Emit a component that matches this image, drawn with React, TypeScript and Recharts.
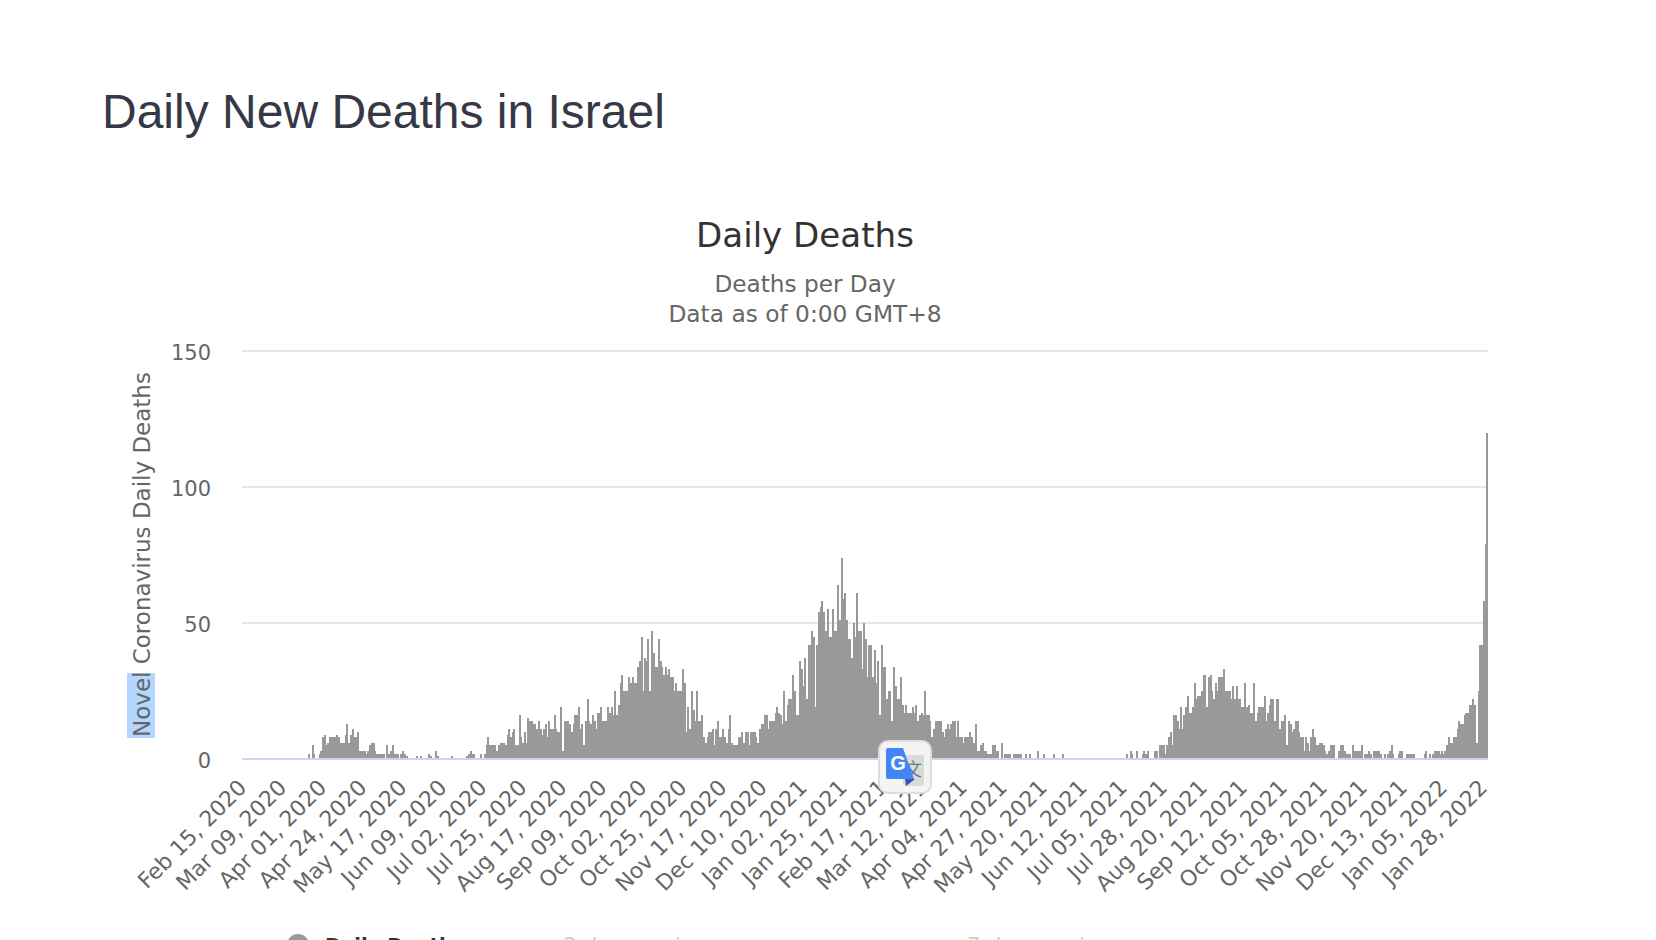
import {
  Bar,
  BarChart,
  CartesianGrid,
  ReferenceLine,
  XAxis,
  YAxis,
} from "recharts";

const tickLabels = [
  "Feb 15, 2020", "Mar 09, 2020", "Apr 01, 2020", "Apr 24, 2020", "May 17, 2020", "Jun 09, 2020",
  "Jul 02, 2020", "Jul 25, 2020", "Aug 17, 2020", "Sep 09, 2020", "Oct 02, 2020", "Oct 25, 2020",
  "Nov 17, 2020", "Dec 10, 2020", "Jan 02, 2021", "Jan 25, 2021", "Feb 17, 2021", "Mar 12, 2021",
  "Apr 04, 2021", "Apr 27, 2021", "May 20, 2021", "Jun 12, 2021", "Jul 05, 2021", "Jul 28, 2021",
  "Aug 20, 2021", "Sep 12, 2021", "Oct 05, 2021", "Oct 28, 2021", "Nov 20, 2021", "Dec 13, 2021",
  "Jan 05, 2022", "Jan 28, 2022",
];

const yTicks = [0, 50, 100, 150];

// one row per 23 days, so each row starts on a tick label
const dailyDeaths = [
  0, 0, 0, 0, 0, 0, 0, 0, 0, 0, 0, 0, 0, 0, 0, 0, 0, 0, 0, 0, 0, 0, 0,
  0, 0, 0, 0, 0, 0, 0, 0, 0, 0, 0, 0, 0, 0, 0, 2, 0, 5, 2, 0, 0, 2, 3,
  8, 9, 5, 6, 8, 8, 8, 8, 9, 8, 6, 6, 6, 9, 13, 6, 9, 11, 8, 8, 10, 3, 3,
  3, 3, 2, 3, 5, 6, 6, 3, 2, 2, 2, 2, 2, 0, 5, 2, 3, 5, 2, 2, 2, 0, 2,
  3, 2, 1, 0, 0, 0, 0, 0, 1, 0, 1, 0, 0, 0, 0, 2, 1, 0, 0, 3, 1, 0, 0,
  0, 0, 0, 0, 0, 1, 0, 0, 0, 0, 0, 0, 0, 0, 1, 2, 3, 2, 2, 0, 0, 0, 2,
  0, 2, 5, 8, 5, 5, 5, 5, 3, 5, 6, 6, 6, 5, 9, 11, 8, 10, 11, 5, 5, 16, 8,
  6, 10, 6, 15, 14, 14, 13, 13, 11, 14, 11, 9, 11, 13, 8, 14, 11, 11, 16, 11, 10, 10, 19,
  3, 14, 14, 14, 13, 10, 13, 16, 16, 19, 11, 13, 5, 14, 22, 14, 13, 16, 14, 11, 17, 17, 19,
  14, 14, 14, 19, 17, 19, 16, 25, 16, 20, 28, 31, 25, 25, 25, 30, 28, 30, 28, 28, 34, 36, 45,
  25, 37, 36, 44, 25, 47, 39, 34, 34, 44, 36, 34, 31, 34, 31, 33, 30, 30, 25, 28, 25, 25, 25,
  33, 28, 10, 19, 11, 25, 18, 14, 25, 14, 14, 16, 8, 6, 8, 10, 10, 11, 5, 11, 14, 8, 8,
  11, 8, 6, 11, 16, 6, 5, 5, 5, 8, 8, 10, 6, 10, 10, 5, 10, 10, 10, 8, 6, 11, 13,
  13, 16, 16, 11, 14, 14, 14, 17, 19, 17, 16, 13, 25, 14, 20, 22, 22, 31, 25, 16, 16, 36, 33,
  27, 37, 22, 42, 42, 47, 45, 19, 42, 54, 56, 58, 54, 47, 55, 45, 45, 55, 47, 47, 64, 51, 74,
  59, 61, 51, 44, 44, 37, 50, 45, 61, 47, 47, 33, 50, 44, 30, 42, 42, 30, 40, 28, 36, 16, 42,
  34, 34, 22, 25, 25, 14, 34, 27, 22, 22, 30, 20, 17, 20, 17, 17, 17, 19, 17, 20, 14, 16, 17,
  16, 25, 16, 16, 14, 8, 11, 14, 14, 14, 14, 10, 8, 11, 13, 11, 13, 14, 14, 8, 14, 8, 8,
  6, 8, 8, 8, 10, 8, 6, 13, 3, 3, 5, 6, 3, 3, 2, 2, 2, 5, 5, 3, 3, 0, 6,
  0, 2, 2, 2, 2, 0, 2, 2, 2, 2, 2, 0, 0, 2, 0, 2, 0, 0, 0, 0, 3, 0, 0,
  2, 0, 0, 0, 0, 0, 2, 0, 0, 0, 0, 2, 0, 0, 0, 0, 0, 0, 0, 0, 0, 0, 0,
  0, 0, 0, 0, 0, 0, 0, 0, 0, 0, 0, 0, 0, 0, 0, 0, 0, 0, 0, 0, 0, 0, 0,
  0, 0, 2, 0, 3, 2, 0, 0, 3, 0, 0, 2, 3, 2, 3, 0, 0, 0, 3, 3, 0, 5, 5,
  5, 2, 5, 8, 10, 5, 16, 16, 14, 11, 19, 11, 16, 19, 23, 17, 17, 19, 28, 22, 23, 23, 25,
  31, 31, 19, 30, 31, 25, 22, 28, 25, 30, 30, 30, 33, 25, 25, 25, 22, 27, 22, 27, 22, 22, 19,
  19, 28, 19, 20, 17, 17, 28, 14, 17, 19, 19, 19, 23, 14, 17, 20, 22, 22, 14, 22, 22, 11, 14,
  14, 16, 5, 14, 13, 10, 11, 14, 14, 10, 8, 8, 3, 8, 6, 3, 8, 11, 8, 5, 5, 6, 6,
  5, 3, 2, 3, 5, 5, 5, 0, 0, 3, 5, 5, 3, 2, 2, 2, 0, 5, 3, 3, 3, 3, 5,
  0, 2, 2, 3, 2, 0, 3, 3, 3, 3, 2, 0, 2, 0, 2, 3, 5, 2, 0, 0, 2, 3, 3,
  0, 0, 2, 2, 2, 2, 2, 0, 0, 0, 0, 0, 2, 3, 0, 2, 0, 2, 3, 3, 3, 2, 3,
  2, 3, 5, 8, 6, 6, 8, 8, 11, 14, 13, 13, 16, 17, 17, 20, 20, 22, 20, 6, 25, 42, 42,
  58, 79, 120,
];

const chartData = dailyDeaths.map((deaths, i) => ({
  day: i % 23 === 0 ? tickLabels[i / 23] : `day ${i}`,
  deaths,
}));

const labelFont = "'DejaVu Sans', sans-serif";

const DateTick = ({ x, y, payload }: any) => (
  <text
    x={x + 5}
    y={y + 22}
    transform={`rotate(-45 ${x + 5} ${y + 22})`}
    textAnchor="end"
    fontFamily={labelFont}
    fontSize={21.8}
    fill="#666666"
  >
    {payload.value}
  </text>
);

const CountTick = ({ x, y, payload }: any) => (
  <text x={x + 6} y={y + 9} textAnchor="end" fontFamily={labelFont} fontSize={21} fill="#666666">
    {payload.value}
  </text>
);

// recharts floors the bar width on such a narrow band, so the columns are drawn 2px wide to touch
const DayBar = ({ x, y, height }: any) =>
  height > 0 ? (
    <rect x={x} y={y} width={2} height={height} fill="#999999" shapeRendering="crispEdges" />
  ) : null;

const PageText = () => (
  <svg width={1656} height={940} style={{ position: "absolute", left: 0, top: 0 }}>
    <text x={102} y={128} fontFamily="'Liberation Sans', sans-serif" fontSize={48} fill="#363945">
      Daily New Deaths in Israel
    </text>
    <text x={805} y={247} textAnchor="middle" fontFamily={labelFont} fontSize={34.1} fill="#333333">
      Daily Deaths
    </text>
    <text x={805} y={292} textAnchor="middle" fontFamily={labelFont} fontSize={23.2} fill="#666666">
      Deaths per Day
    </text>
    <text x={805} y={322} textAnchor="middle" fontFamily={labelFont} fontSize={23.3} fill="#666666">
      Data as of 0:00 GMT+8
    </text>
    <rect x={127} y={673} width={28} height={65} fill="#b3d7ff" />
    <text
      x={150}
      y={737}
      transform="rotate(-90 150 737)"
      fontFamily={labelFont}
      fontSize={23}
      fill="#666666"
    >
      Novel Coronavirus Daily Deaths
    </text>
    <circle cx={298} cy={945} r={11} fill="#999999" />
    <text x={325} y={952} fontFamily={labelFont} fontSize={19.5} fontWeight="bold" fill="#333333">
      Daily Deaths
    </text>
    <text x={563} y={953} fontFamily={labelFont} fontSize={21} fill="#cccccc">
      3-day moving average
    </text>
    <text x={967} y={953} fontFamily={labelFont} fontSize={21} fill="#cccccc">
      7-day moving average
    </text>
  </svg>
);

// browser extension button that sits over the chart in the screenshot
const TranslateBadge = () => (
  <svg width={60} height={60} style={{ position: "absolute", left: 875, top: 737 }}>
    <rect x={4} y={4} width={52} height={52} rx={9} fill="#f4f4f4" stroke="#dddddd" strokeWidth={2} />
    <rect x={28} y={18} width={21} height={31} rx={2} fill="#dbdbdb" />
    <text x={38} y={39} textAnchor="middle" fontFamily="'Noto Sans CJK SC'" fontSize={18} fill="#607d8b">
      文
    </text>
    <path d="M 30 42 L 40 42 L 31 49 Z" fill="#3b4fc0" />
    <path d="M 13 11 L 28 11 L 39 42 L 13 42 Q 11 42 11 40 L 11 13 Q 11 11 13 11 Z" fill="#4285f4" />
    <text x={23} y={33} textAnchor="middle" fontFamily="'Liberation Sans'" fontWeight="bold" fontSize={20} fill="#ffffff">
      G
    </text>
  </svg>
);

export default function App() {
  return (
    <div style={{ position: "absolute", left: 0, top: 0, width: 1656, height: 940, overflow: "hidden", background: "#ffffff" }}>
      <PageText />
      <div style={{ position: "absolute", left: 0, top: 0 }}>
        <BarChart
          width={1656}
          height={940}
          data={chartData}
          barCategoryGap={0}
          margin={{ top: 351, right: 168, bottom: 81, left: 162 }}
        >
          <CartesianGrid vertical={false} stroke="#e6e6e6" strokeWidth={2} />
          <XAxis
            dataKey="day"
            interval={22}
            height={100}
            axisLine={false}
            tickLine={false}
            tick={<DateTick />}
          />
          <YAxis
            domain={[0, 150]}
            ticks={yTicks}
            width={80}
            axisLine={false}
            tickLine={false}
            tickMargin={31}
            tick={<CountTick />}
          />
          <Bar
            dataKey="deaths"
            fill="#999999"
            barSize={2}
            shape={<DayBar />}
            isAnimationActive={false}
          />
          <ReferenceLine y={0} stroke="#ccd6eb" strokeWidth={2} />
        </BarChart>
      </div>
      <TranslateBadge />
    </div>
  );
}
